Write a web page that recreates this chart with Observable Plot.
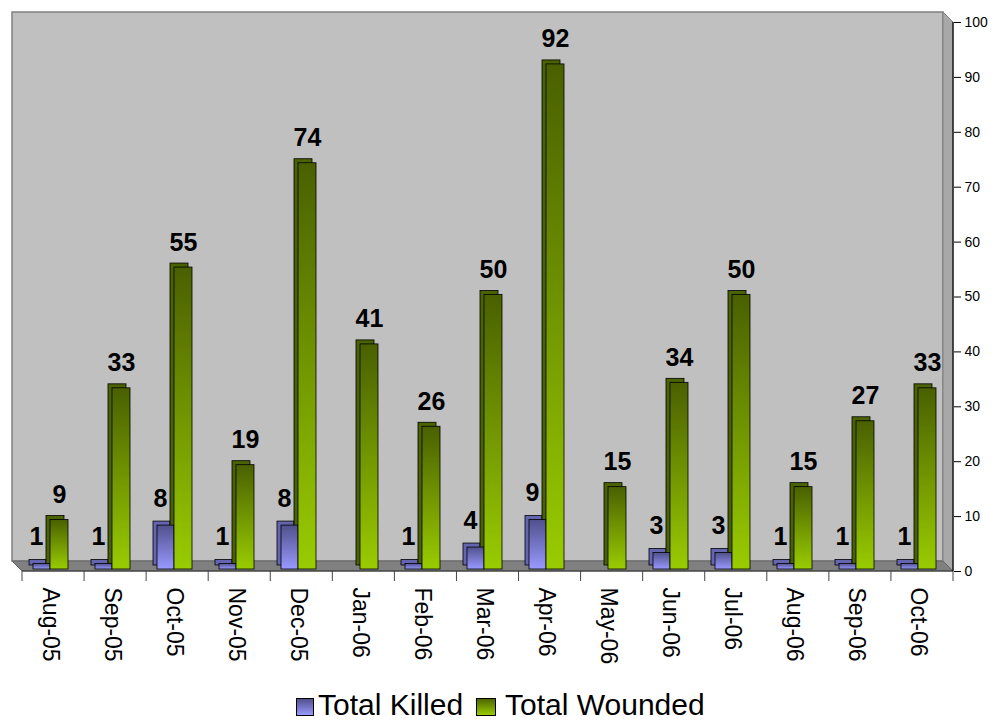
<!DOCTYPE html>
<html>
<head>
<meta charset="utf-8">
<script src="https://cdn.jsdelivr.net/npm/d3@7"></script>
<script src="https://cdn.jsdelivr.net/npm/@observablehq/plot@0.6"></script>
<style>
  html, body { margin: 0; padding: 0; background: #fff; }
  body { width: 998px; height: 721px; position: relative; overflow: hidden; font-family: Arial, "Liberation Sans", sans-serif; }
  #chart svg { display: block; overflow: visible; }
  #legend { position: absolute; left: 296px; top: 688px; height: 33px; line-height: 33px; font-size: 30px; color: #000; white-space: nowrap; }
  #legend span.sw { display: inline-block; width: 16px; height: 16px; border: 1px solid #000; vertical-align: -1px; }
  #legend span.lab { margin-left: 4px; margin-right: 13px; }
</style>
</head>
<body>
<div id="chart"></div>
<div id="legend">
  <span class="sw" style="background: linear-gradient(#50508c, #9999ff);"></span><span class="lab">Total Killed</span><span class="sw" style="background: linear-gradient(#4d6600, #99cc00); width:18px;"></span><span class="lab" style="margin-left:9px">Total Wounded</span>
</div>
<script>
const months = ["Aug-05","Sep-05","Oct-05","Nov-05","Dec-05","Jan-06","Feb-06","Mar-06","Apr-06","May-06","Jun-06","Jul-06","Aug-06","Sep-06","Oct-06"];
const killed = [1, 1, 8, 1, 8, null, 1, 4, 9, null, 3, 3, 1, 1, 1];
const wounded = [9, 33, 55, 19, 74, 41, 26, 50, 92, 15, 34, 50, 15, 27, 33];
const yTicks = [0, 10, 20, 30, 40, 50, 60, 70, 80, 90, 100];

const rows = months.map((m, i) => ({month: m, killed: killed[i], wounded: wounded[i]}));
const killedRows = rows.filter(d => d.killed != null);

const W = 998, H = 680;
const DEPTH = 10;

function walls(index, scales, values, dims) {
  const ns = "http://www.w3.org/2000/svg";
  const g = document.createElementNS(ns, "g");
  const L = dims.marginLeft, R = dims.width - dims.marginRight;
  const T = scales.y(yTicks[yTicks.length - 1]), B = scales.y(0);
  const D = DEPTH;
  const add = (tag, attrs) => { const e = document.createElementNS(ns, tag); for (const k in attrs) e.setAttribute(k, attrs[k]); g.appendChild(e); return e; };
  add("rect", {x: L - D, y: T - D, width: R - L, height: B - T, fill: "#c0c0c0", stroke: "#808080", "stroke-width": 1.5});
  add("polygon", {points: `${R - D},${T - D} ${R},${T} ${R},${B} ${R - D},${B - D}`, fill: "#a8a8a8", stroke: "#808080", "stroke-width": 1});
  add("polygon", {points: `${L - D},${B - D} ${R - D},${B - D} ${R},${B} ${L},${B}`, fill: "#808080", stroke: "#666", "stroke-width": 1});
  add("line", {x1: L, x2: R, y1: B, y2: B, stroke: "#333", "stroke-width": 1.2});
  const n = months.length, bw = (R - L) / n;
  for (let i = 0; i <= n; i++) {
    add("line", {x1: L + i * bw, x2: L + i * bw, y1: B, y2: B + 10, stroke: "#444", "stroke-width": 1});
  }
  add("line", {x1: R, x2: R, y1: T, y2: B, stroke: "#000", "stroke-width": 1.2});
  return g;
}

const chart = Plot.plot({
  width: W,
  height: H,
  marginLeft: 22,
  marginRight: 45,
  marginTop: 22,
  marginBottom: 109,
  style: {fontFamily: "Arial, 'Liberation Sans', sans-serif", background: "transparent", color: "#000"},
  x: {domain: months, padding: 0, axis: null},
  y: {domain: [0, 100], axis: null},
  marks: [
    walls,
    Plot.barY(killedRows, {x: "month", y: "killed", insetLeft: 10, insetRight: 35, dx: -4, dy: -6, fill: "#6464b0", stroke: "#000", strokeWidth: 0.8}),
    Plot.barY(rows, {x: "month", y: "wounded", insetLeft: 27, insetRight: 17, dx: -4, dy: -6, fill: "#4a6200", stroke: "#000", strokeWidth: 0.8}),
    Plot.barY(killedRows, {x: "month", y: "killed", insetLeft: 10, insetRight: 35, dy: -2, fill: "url(#gKilled)", stroke: "#000", strokeWidth: 0.8}),
    Plot.barY(rows, {x: "month", y: "wounded", insetLeft: 27, insetRight: 17, dy: -2, fill: "url(#gWounded)", stroke: "#000", strokeWidth: 0.8}),
    Plot.text(killedRows, {x: "month", y: "killed", text: d => String(d.killed), dx: -18, dy: -21, lineAnchor: "bottom", fontSize: 25, fontWeight: "bold", fill: "#000"}),
    Plot.text(rows, {x: "month", y: "wounded", text: d => String(d.wounded), dx: 5, dy: -19, lineAnchor: "bottom", fontSize: 25, fontWeight: "bold", fill: "#000"}),
    Plot.axisX({tickSize: 0, tickPadding: 16, tickRotate: 90, fontSize: 23, dx: -4, label: null}),
    Plot.axisY({anchor: "right", ticks: yTicks, tickSize: 7, tickPadding: 4, fontSize: 14, label: null})
  ]
});

const ns = "http://www.w3.org/2000/svg";
const defs = document.createElementNS(ns, "defs");
defs.innerHTML = `
  <linearGradient id="gWounded" x1="0" y1="0" x2="0" y2="1">
    <stop offset="0" stop-color="#4a6000"/>
    <stop offset="1" stop-color="#99cc00"/>
  </linearGradient>
  <linearGradient id="gKilled" x1="0" y1="0" x2="0" y2="1">
    <stop offset="0" stop-color="#50508c"/>
    <stop offset="1" stop-color="#9999ff"/>
  </linearGradient>`;
chart.insertBefore(defs, chart.firstChild);
document.getElementById("chart").appendChild(chart);
</script>
</body>
</html>
